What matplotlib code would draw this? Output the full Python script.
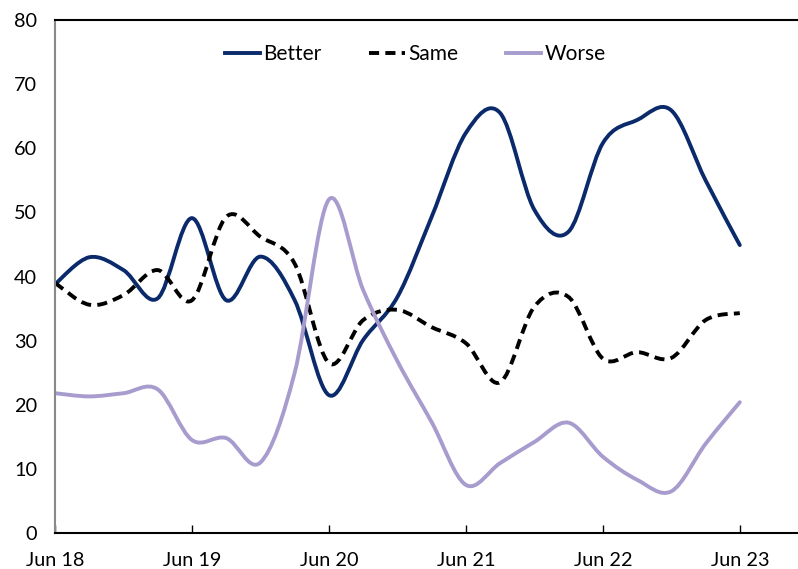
import matplotlib
matplotlib.use("Agg")
import matplotlib.pyplot as plt
import numpy as np
from matplotlib.path import Path
from matplotlib.patches import PathPatch
from matplotlib.lines import Line2D

plt.rcParams['font.family'] = ['Lato', 'DejaVu Sans']

# quarterly survey, Jun 18 .. Jun 23
quarters = np.arange(21)
tick_pos = [0, 4, 8, 12, 16, 20]
tick_labels = ['Jun 18', 'Jun 19', 'Jun 20', 'Jun 21', 'Jun 22', 'Jun 23']

better = [38.8, 43.0, 41.0, 36.6, 49.1, 36.3, 43.1, 36.3, 21.5, 30.1, 36.8,
          49.3, 62.4, 65.5, 50.4, 47.0, 60.8, 64.4, 65.9, 55.0, 44.9]
same = [39.0, 35.6, 37.1, 41.0, 36.3, 49.3, 46.2, 42.0, 26.5, 33.2, 34.8,
        32.1, 29.6, 23.5, 35.3, 36.8, 27.2, 28.2, 27.3, 33.2, 34.3]
worse = [21.8, 21.3, 21.8, 22.4, 14.5, 14.8, 11.0, 25.0, 52.0, 37.9, 26.8,
         17.3, 7.5, 10.9, 14.2, 17.2, 11.9, 8.3, 6.5, 13.9, 20.4]

c_better = '#0b2a6b'
c_worse = '#a79ccd'


def smooth_path(x, y):
    # excel style smoothed line: cubic bezier through every point
    pts = np.column_stack([x, y]).astype(float)
    ext = np.vstack([pts[0], pts, pts[-1]])
    verts = [pts[0]]
    codes = [Path.MOVETO]
    for i in range(len(pts) - 1):
        p0, p1, p2, p3 = ext[i], ext[i + 1], ext[i + 2], ext[i + 3]
        verts += [p1 + (p2 - p0) / 6, p2 - (p3 - p1) / 6, p2]
        codes += [Path.CURVE4] * 3
    return Path(verts, codes)


fig = plt.figure(figsize=(7.98, 5.69), dpi=100)
ax = fig.add_axes([55 / 798, 1 - 533 / 569, 1 - 55 / 798, 513 / 569])

lw = 2.8
dash = (0, (2.6, 1.6))
ax.add_patch(PathPatch(smooth_path(quarters, better), fill=False,
                       edgecolor=c_better, lw=lw, capstyle='round'))
ax.add_patch(PathPatch(smooth_path(quarters, same), fill=False,
                       edgecolor='black', lw=lw, linestyle=dash))
ax.add_patch(PathPatch(smooth_path(quarters, worse), fill=False,
                       edgecolor=c_worse, lw=lw, capstyle='round'))

ax.set_xlim(0, 21.7)
ax.set_ylim(0, 80)
ax.set_yticks(range(0, 81, 10))
ax.set_xticks(tick_pos)
ax.set_xticklabels(tick_labels)
ax.tick_params(axis='y', length=0, pad=13, labelsize=14.3)
ax.tick_params(axis='x', direction='in', length=6, width=1, pad=14,
               labelsize=14.3)

ax.spines['right'].set_visible(False)
ax.spines['left'].set_color('#888888')
ax.spines['left'].set_linewidth(1.5)
ax.spines['bottom'].set_linewidth(1.5)
ax.spines['top'].set_linewidth(1.5)

handles = [Line2D([], [], color=c_better, lw=lw),
           Line2D([], [], color='black', lw=lw, linestyle=dash),
           Line2D([], [], color=c_worse, lw=lw)]
ax.legend(handles, ['Better', 'Same', 'Worse'], loc='center',
          bbox_to_anchor=(415 / 798, 1 - 54 / 569),
          bbox_transform=fig.transFigure, ncol=3, frameon=False,
          fontsize=15, handlelength=1.7, handletextpad=0.15,
          columnspacing=2.3)

fig.savefig('out.png', dpi=100)
